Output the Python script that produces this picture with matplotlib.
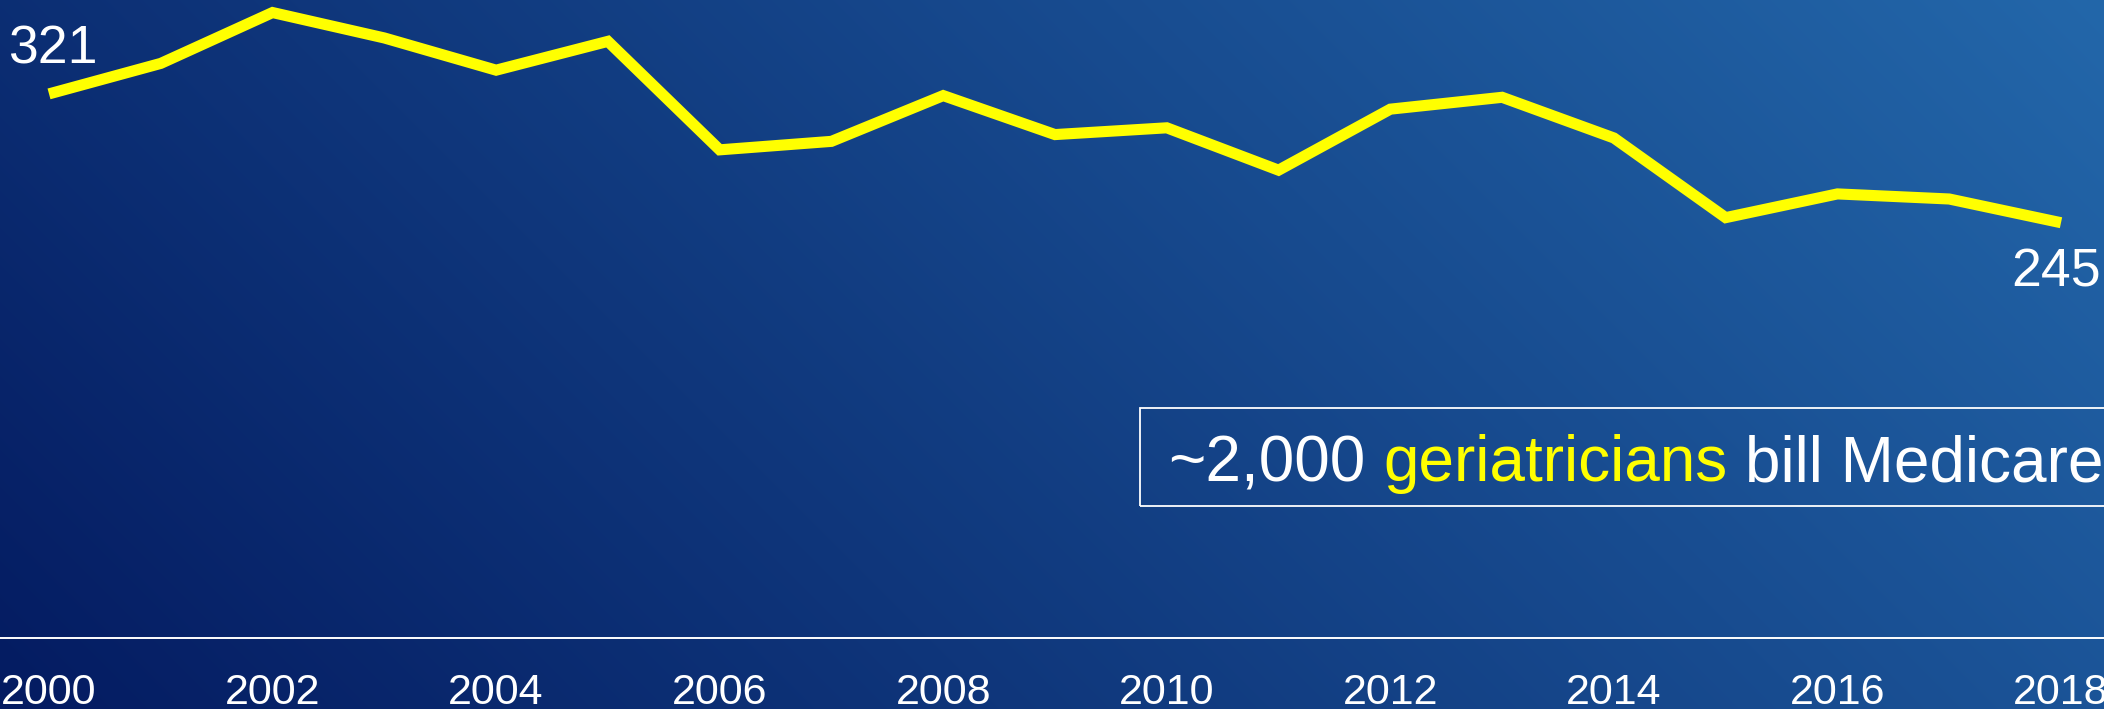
import numpy as np
import matplotlib
matplotlib.use("Agg")
import matplotlib.pyplot as plt
from matplotlib.patches import Rectangle

plt.rcParams['font.family'] = ['Liberation Sans', 'DejaVu Sans']

# data: geriatricians per ...
years = list(range(2000, 2019))
values = [321, 339, 369, 354, 335, 352, 288, 293, 320, 297,
          301, 276, 312, 319, 295, 248, 262, 259, 245]
tick_years = years[::2]
tick_labels = [str(y) for y in tick_years]

W, H = 2104, 709
fig = plt.figure(figsize=(W / 100, H / 100), dpi=100)

# diagonal gradient background (dark bottom-left -> lighter top-right)
bg = fig.add_axes([0, 0, 1, 1])
bg.set_axis_off()
xx, yy = np.meshgrid(np.arange(W), np.arange(H))
t = (xx + (H - yy)) / (W + H)
c0 = np.array([4, 27, 97]) / 255
c1 = np.array([35, 103, 170]) / 255
img = c0[None, None, :] + t[:, :, None] * (c1 - c0)[None, None, :]
bg.imshow(img, aspect='auto', extent=(0, 1, 0, 1), origin='upper')
bg.set_xlim(0, 1)
bg.set_ylim(0, 1)

ax = fig.add_axes([0, 71 / H, 1, 638 / H])
ax.patch.set_alpha(0)
ax.plot(years, values, color='#ffff00', lw=8,
        solid_joinstyle='miter', solid_capstyle='butt')
ax.set_xlim(1999.5616, 2018.3847)
ax.set_ylim(0, 376.4)
for s in ['top', 'left', 'right']:
    ax.spines[s].set_visible(False)
ax.spines['bottom'].set_color('white')
ax.spines['bottom'].set_linewidth(1.4)
ax.set_yticks([])
ax.set_xticks(tick_years)
ax.set_xticklabels(tick_labels)
ax.tick_params(axis='x', length=0, pad=25, labelsize=31, labelcolor='white')

# end labels
ax.annotate(str(values[0]), xy=(years[0], values[0]), xytext=(-29.5, 22.1),
            textcoords='offset points', ha='left', va='baseline',
            color='white', fontsize=38.5)
ax.annotate(str(values[-1]), xy=(years[-1], values[-1]), xytext=(28.5, -45.7),
            textcoords='offset points', ha='right', va='baseline',
            color='white', fontsize=38.5)

# callout box
fig.patches.append(Rectangle((1140 / W, (H - 506) / H), 0.6, 98 / H,
                             transform=fig.transFigure, fill=False,
                             edgecolor='white', lw=1.3))
parts = [('~2,000', 'white'), ('geriatricians', '#ffff00'), ('bill Medicare', 'white')]
x0, yb = 1168 / W, (H - 481) / H
fs = 46
r = fig.canvas.get_renderer()

def width(s):
    tt = fig.text(0, 0, s, fontsize=fs)
    w = tt.get_window_extent(r).width
    tt.remove()
    return w

prefix = ''
for s, col in parts:
    prefix = (prefix + ' ' + s) if prefix else s
    off = width(prefix) - width(s)
    fig.text(x0 + off / W, yb, s, fontsize=fs, color=col, va='baseline', ha='left')

fig.savefig('out.png', dpi=100)
